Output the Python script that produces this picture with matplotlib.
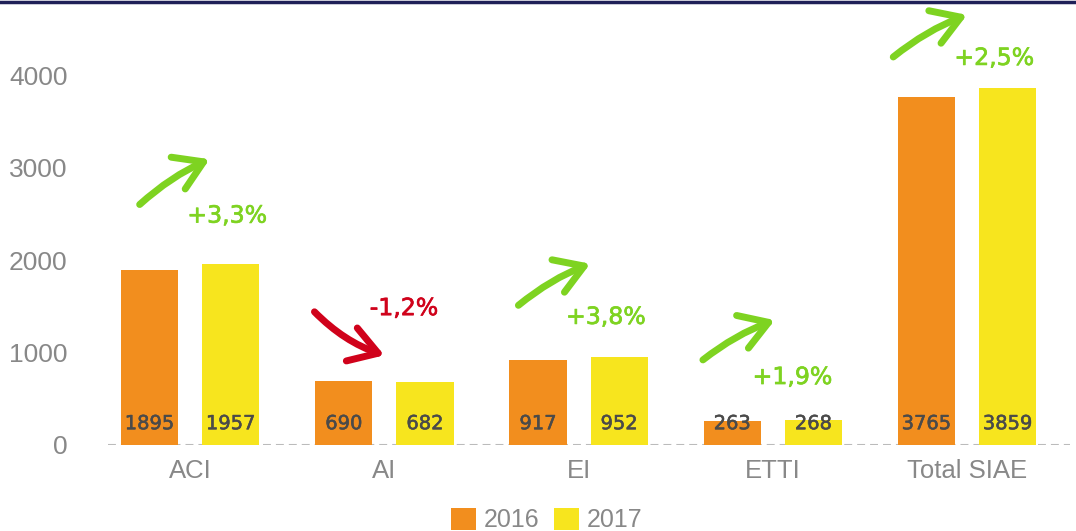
import matplotlib.pyplot as plt
import matplotlib.patheffects as pe
from matplotlib.patches import FancyArrowPatch
from matplotlib.lines import Line2D
import numpy as np

categories = ["ACI", "AI", "EI", "ETTI", "Total SIAE"]
values_2016 = [1895, 690, 917, 263, 3765]
values_2017 = [1957, 682, 952, 268, 3859]
changes = ["+3,3%", "-1,2%", "+3,8%", "+1,9%", "+2,5%"]

# arrow tail / head and label position for each change note (data units)
arrow_tail = [(-0.26, 2600), (0.64, 1440), (1.69, 1510), (2.64, 920), (3.62, 4195)]
arrow_head = [(0.10, 3090), (1.00, 970), (2.06, 1960), (3.01, 1350), (4.00, 4650)]
label_pos = [(0.19, 2480), (1.10, 1480), (2.14, 1385), (3.10, 735), (4.14, 4185)]

orange = "#F28E1E"
yellow = "#F7E51E"
green = "#7ED321"
red = "#D0021B"
grey = "#888888"

fig = plt.figure(figsize=(10.76, 5.31), dpi=100)
ax = fig.add_axes([108 / 1076, 86 / 531, 962 / 1076, 440 / 531])

x = np.arange(len(categories))
w = 0.294
off = 0.209
ax.bar(x - off, values_2016, w, color=orange, label="2016", zorder=2)
ax.bar(x + off, values_2017, w, color=yellow, label="2017", zorder=2)

for i in range(len(categories)):
    for xx, v in [(x[i] - off, values_2016[i]), (x[i] + off, values_2017[i])]:
        ax.text(xx, 230, str(v), ha="center", va="center", fontsize=14,
                color="#4a4a4a", family="DejaVu Sans", zorder=3,
                path_effects=[pe.withStroke(linewidth=0.4, foreground="#4a4a4a")])

for i, ch in enumerate(changes):
    c = red if ch.startswith("-") else green
    rad = 0.12 if ch.startswith("-") else -0.08
    arr = FancyArrowPatch(arrow_tail[i], arrow_head[i],
                          arrowstyle="->,head_length=0.8,head_width=0.5",
                          connectionstyle=f"arc3,rad={rad}", mutation_scale=25,
                          shrinkA=0, shrinkB=0,
                          color=c, lw=5, capstyle="round", joinstyle="round",
                          zorder=4)
    ax.add_patch(arr)
    ax.text(label_pos[i][0], label_pos[i][1], ch, ha="center", va="center",
            fontsize=17, color=c, family="DejaVu Sans",
            path_effects=[pe.withStroke(linewidth=0.5, foreground=c)])

ax.axhline(0, color="#bbbbbb", lw=1.5, linestyle=(0, (3.8, 2.4)), zorder=1)

ax.set_xlim(-0.423, 4.53)
ax.set_ylim(0, 4757)
ax.set_yticks([0, 1000, 2000, 3000, 4000])
ax.set_xticks(x)
ax.set_xticklabels(categories)
ax.tick_params(axis="y", length=0, pad=29, labelsize=19, labelcolor=grey)
ax.tick_params(axis="x", length=0, pad=10, labelsize=18.5, labelcolor=grey)
for lab in ax.get_yticklabels() + ax.get_xticklabels():
    lab.set_family("Liberation Sans")
for s in ax.spines.values():
    s.set_visible(False)

leg = fig.legend(loc="upper center", bbox_to_anchor=(0.508, 1 - 485 / 531), ncol=2,
                 frameon=False, handlelength=1.0, handleheight=1.0,
                 columnspacing=0.6, handletextpad=0.3,
                 prop={"family": "Liberation Sans", "size": 18})
for t in leg.get_texts():
    t.set_color(grey)

fig.add_artist(Line2D([0, 1], [1 - 1.5 / 531, 1 - 1.5 / 531], color="#1f2058", lw=2.5,
                      transform=fig.transFigure))

fig.savefig("out.png", dpi=100)
